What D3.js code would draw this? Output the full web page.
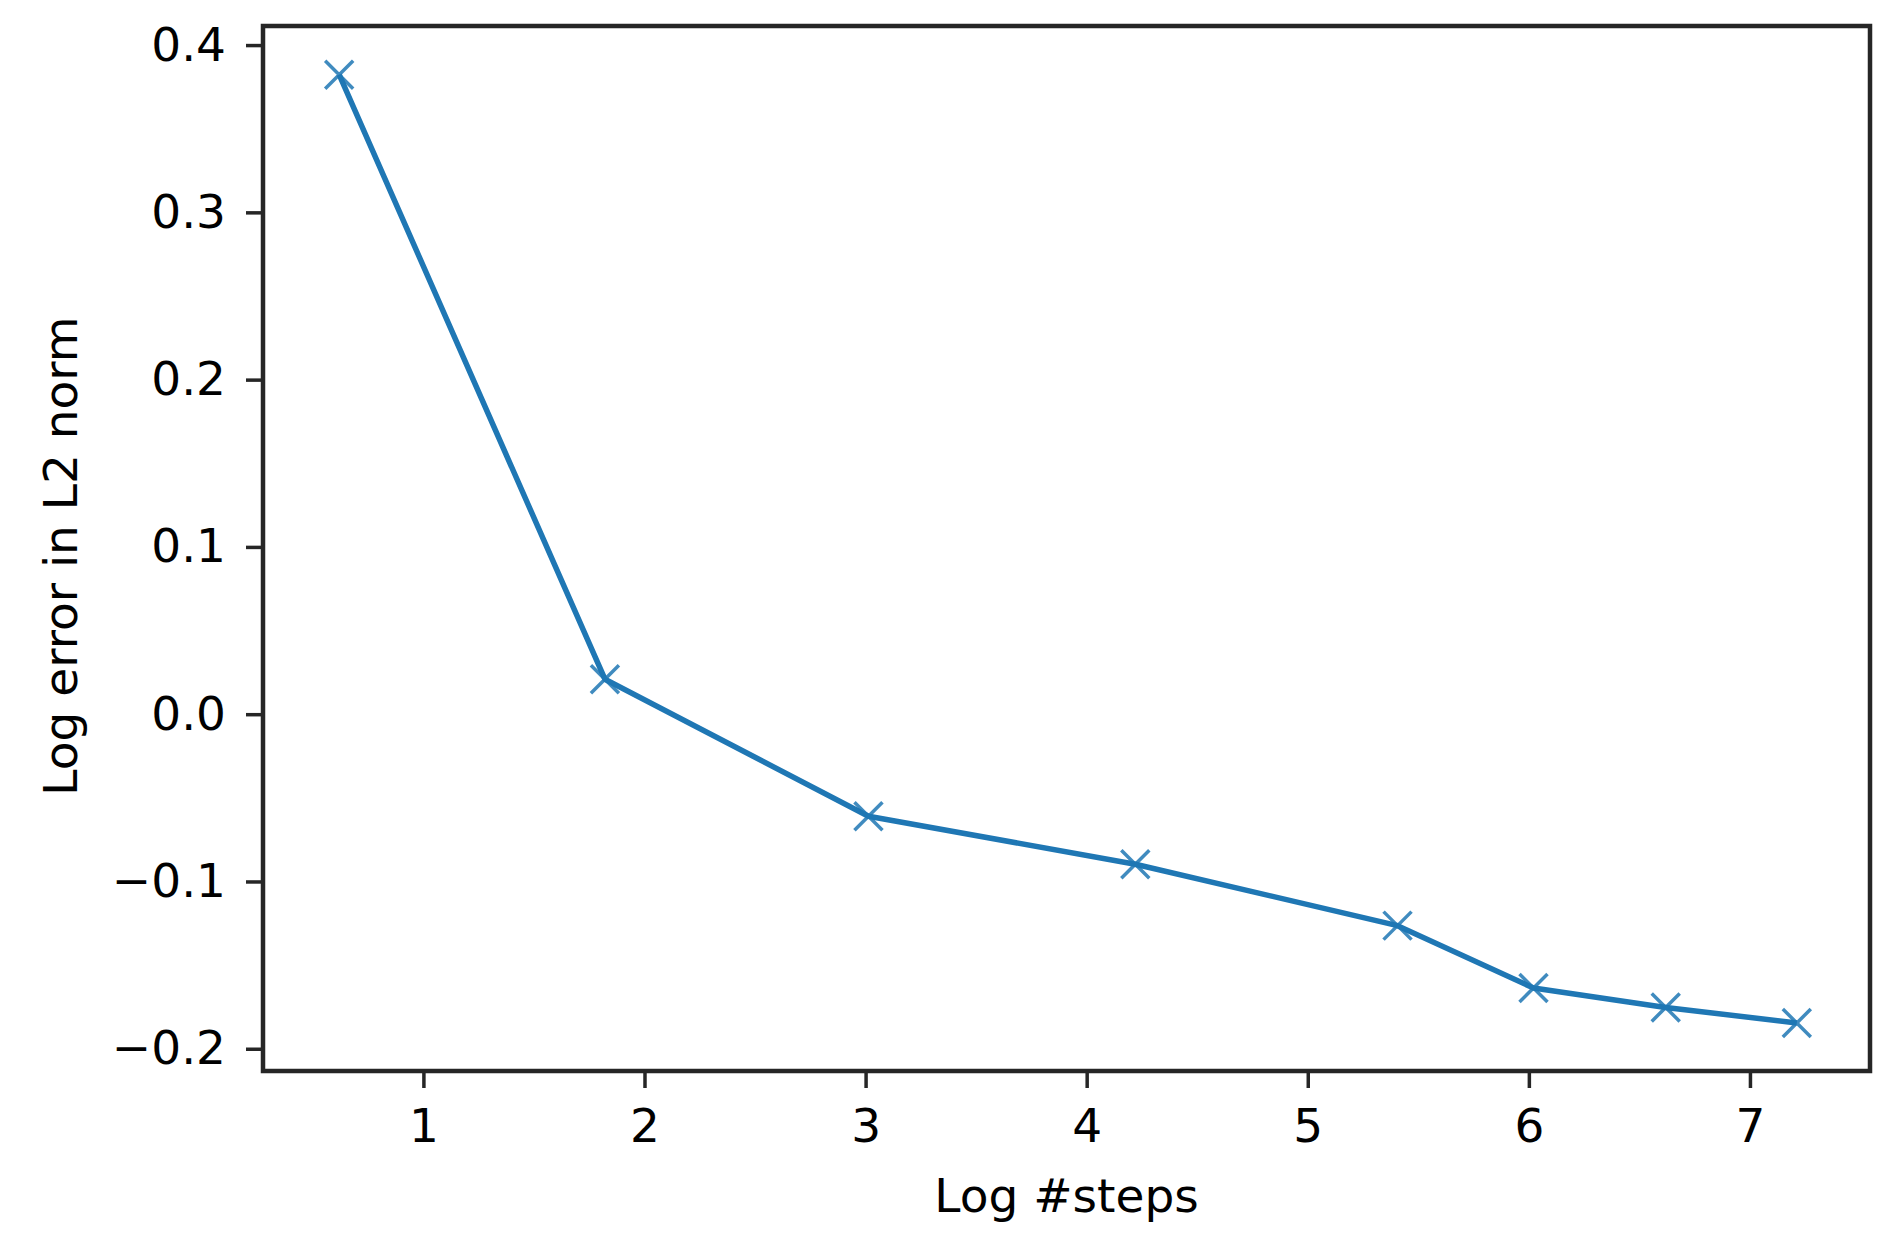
<!DOCTYPE html>
<html>
<head>
<meta charset="utf-8">
<script src="https://cdn.jsdelivr.net/npm/d3@7"></script>
<style>
  body { margin: 0; background: #fff; }
  text { font-family: "DejaVu Sans", sans-serif; fill: #000; }
</style>
</head>
<body>
<script>
'use strict';

// values
const logSteps = [0.619, 1.821, 3.013, 4.220, 5.406, 6.021, 6.619, 7.212];
const logError = [0.3823, 0.0209, -0.0610, -0.0897, -0.1264, -0.1637, -0.1753, -0.1846];
const xTicks = [1, 2, 3, 4, 5, 6, 7];
const yTicks = [-0.2, -0.1, 0.0, 0.1, 0.2, 0.3, 0.4];

(function() {
  let svgContainer = "";

  window.onload = function() {
    svgContainer = d3.select('body')
      .append('svg')
      .attr('width', 1886)
      .attr('height', 1251);
    makePlot();
  }

  function makePlot() {
    // plot area in pixels
    let left = 263, right = 1870, top = 26, bottom = 1071;

    let xScale = d3.scaleLinear()
      .domain([0.2745, 7.543])
      .range([left, right]);
    let yScale = d3.scaleLinear()
      .domain([-0.2133, 0.4114])
      .range([bottom, top]);

    let fmt = (d) => d3.format('.1f')(d).replace('-', '\u2212');

    // x axis
    let xAxis = d3.axisBottom(xScale)
      .tickValues(xTicks)
      .tickSize(17)
      .tickPadding(21)
      .tickFormat(d3.format('d'));
    let gx = svgContainer.append('g')
      .attr('transform', 'translate(0,' + bottom + ')')
      .call(xAxis);
    gx.select('.domain').remove();
    gx.selectAll('line').attr('stroke', '#262626').attr('stroke-width', 3.5);
    gx.selectAll('text').style('font-size', '47px').attr('fill', '#111');

    // y axis
    let yAxis = d3.axisLeft(yScale)
      .tickValues(yTicks)
      .tickSize(17)
      .tickPadding(20)
      .tickFormat(fmt);
    let gy = svgContainer.append('g')
      .attr('transform', 'translate(' + left + ',0)')
      .call(yAxis);
    gy.select('.domain').remove();
    gy.selectAll('line').attr('stroke', '#262626').attr('stroke-width', 3.5);
    gy.selectAll('text').style('font-size', '47px').attr('fill', '#111');

    // data line
    let points = logSteps.map((d, i) => [xScale(d), yScale(logError[i])]);
    svgContainer.append('path')
      .attr('fill', 'none')
      .attr('stroke', '#1f77b4')
      .attr('stroke-width', 5.5)
      .attr('stroke-linejoin', 'round')
      .attr('d', d3.line()(points));

    // x markers
    let m = 14;
    svgContainer.selectAll('.marker')
      .data(points)
      .enter()
      .append('path')
        .attr('class', 'marker')
        .attr('fill', 'none')
        .attr('stroke', '#1f77b4')
        .attr('stroke-width', 3.5)
        .attr('stroke-opacity', 0.85)
        .attr('d', (p) => 'M' + (p[0] - m) + ',' + (p[1] - m) + 'L' + (p[0] + m) + ',' + (p[1] + m) +
                          'M' + (p[0] - m) + ',' + (p[1] + m) + 'L' + (p[0] + m) + ',' + (p[1] - m));

    // frame
    svgContainer.append('rect')
      .attr('x', left)
      .attr('y', top)
      .attr('width', right - left)
      .attr('height', bottom - top)
      .attr('fill', 'none')
      .attr('stroke', '#262626')
      .attr('stroke-width', 4.5);

    // labels
    svgContainer.append('text')
      .attr('x', (left + right) / 2)
      .attr('y', 1212)
      .attr('text-anchor', 'middle')
      .style('font-size', '47px')
      .text('Log #steps');

    svgContainer.append('text')
      .attr('transform', 'translate(77, 556)rotate(-90)')
      .attr('text-anchor', 'middle')
      .style('font-size', '47px')
      .text('Log error in L2 norm');
  }
})();
</script>
</body>
</html>
